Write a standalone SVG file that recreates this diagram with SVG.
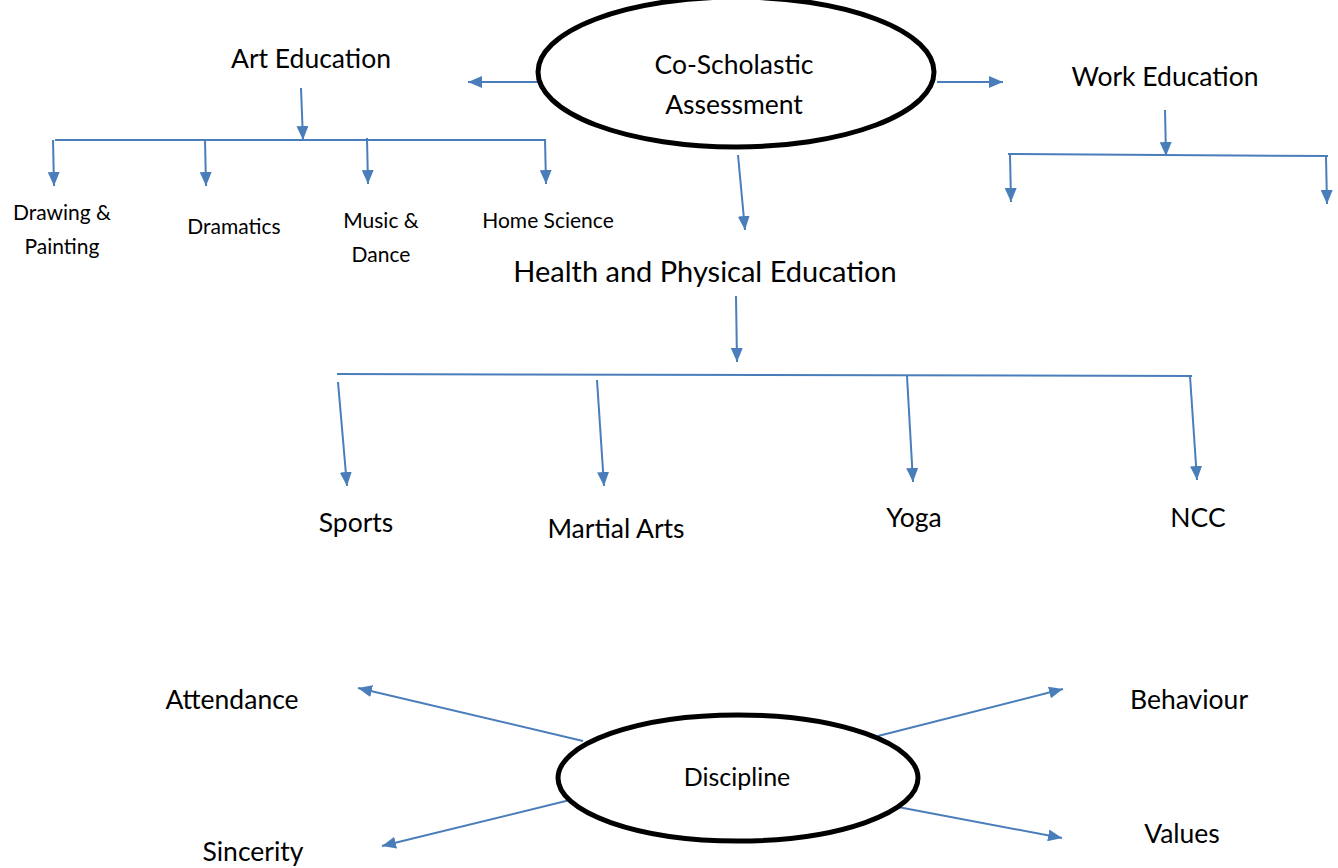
<svg xmlns="http://www.w3.org/2000/svg" width="1338" height="868" viewBox="0 0 1338 868">
<style>
text{font-family:Lato,"Open Sans","Liberation Sans",sans-serif;fill:#000;text-anchor:middle}
.l{font-size:26.5px}
.s{font-size:21px}
.c{stroke:#4a7ebb;stroke-width:2;fill:none}
.a{stroke:#4a7ebb;stroke-width:2;fill:none;marker-end:url(#ah)}
.e{fill:#fff;stroke:#000;stroke-width:5}
</style>
<defs>
<marker id="ah" viewBox="0 0 14 12" refX="14" refY="6" markerWidth="14" markerHeight="12" markerUnits="userSpaceOnUse" orient="auto">
<path d="M0,0 L14,6 L0,12 z" fill="#4a7ebb"/>
</marker>
</defs>
<rect width="1338" height="868" fill="#fff"/>
<g id="connectors">
<line class="a" x1="538" y1="82" x2="468" y2="82"/>
<line class="a" x1="937" y1="82" x2="1003" y2="82"/>
<line class="a" x1="301" y1="88" x2="303" y2="140"/>
<line class="c" x1="55" y1="140" x2="545" y2="140"/>
<line class="a" x1="53" y1="140" x2="54" y2="186"/>
<line class="a" x1="205" y1="140" x2="206" y2="186"/>
<line class="a" x1="367" y1="138" x2="368" y2="184"/>
<line class="a" x1="545" y1="139" x2="546" y2="184"/>
<line class="a" x1="1165" y1="110" x2="1166" y2="156"/>
<line class="c" x1="1008" y1="154" x2="1328" y2="156"/>
<line class="a" x1="1010" y1="154" x2="1011" y2="202"/>
<line class="a" x1="1326" y1="157" x2="1327" y2="204"/>
<line class="a" x1="738" y1="155" x2="745" y2="230"/>
<line class="a" x1="736" y1="296" x2="737" y2="362"/>
<line class="c" x1="337" y1="374" x2="1192" y2="376"/>
<line class="a" x1="338" y1="382" x2="347" y2="486"/>
<line class="a" x1="597" y1="380" x2="604" y2="486"/>
<line class="a" x1="907" y1="376" x2="913" y2="482"/>
<line class="a" x1="1190" y1="376" x2="1197" y2="480"/>
<line class="a" x1="583" y1="741" x2="358" y2="688"/>
<line class="a" x1="878" y1="736" x2="1063" y2="689"/>
<line class="a" x1="570" y1="800" x2="382" y2="846"/>
<line class="a" x1="898" y1="807" x2="1062" y2="838"/>
</g>
<g id="co-scholastic">
<ellipse class="e" cx="736" cy="72" rx="198" ry="75"/>
<text class="l" x="734" y="74">Co-Scholastic</text>
<text class="l" x="734" y="114">Assessment</text>
</g>
<g id="art-education"><text class="l" x="311" y="68">Art Education</text></g>
<g id="work-education"><text class="l" x="1165" y="86">Work Education</text></g>
<g id="drawing"><text class="s" x="62" y="220">Drawing &amp;</text><text class="s" x="62" y="254">Painting</text></g>
<g id="dramatics"><text class="s" x="234" y="234">Dramatics</text></g>
<g id="music"><text class="s" x="381" y="228">Music &amp;</text><text class="s" x="381" y="262">Dance</text></g>
<g id="home-science"><text class="s" x="548" y="228">Home Science</text></g>
<g id="health"><text x="705" y="282" style="font-size:29px">Health and Physical Education</text></g>
<g id="sports"><text class="l" x="356" y="532">Sports</text></g>
<g id="martial-arts"><text class="l" x="616" y="538">Martial Arts</text></g>
<g id="yoga"><text class="l" x="914" y="527">Yoga</text></g>
<g id="ncc"><text class="l" x="1198" y="527">NCC</text></g>
<g id="discipline">
<ellipse class="e" cx="738" cy="778" rx="180" ry="63"/>
<text class="l" x="737" y="786" style="font-size:25px">Discipline</text>
</g>
<g id="attendance"><text class="l" x="232" y="709">Attendance</text></g>
<g id="behaviour"><text class="l" x="1189" y="709">Behaviour</text></g>
<g id="sincerity"><text class="l" x="253" y="861">Sincerity</text></g>
<g id="values"><text class="l" x="1182" y="843">Values</text></g>
</svg>
